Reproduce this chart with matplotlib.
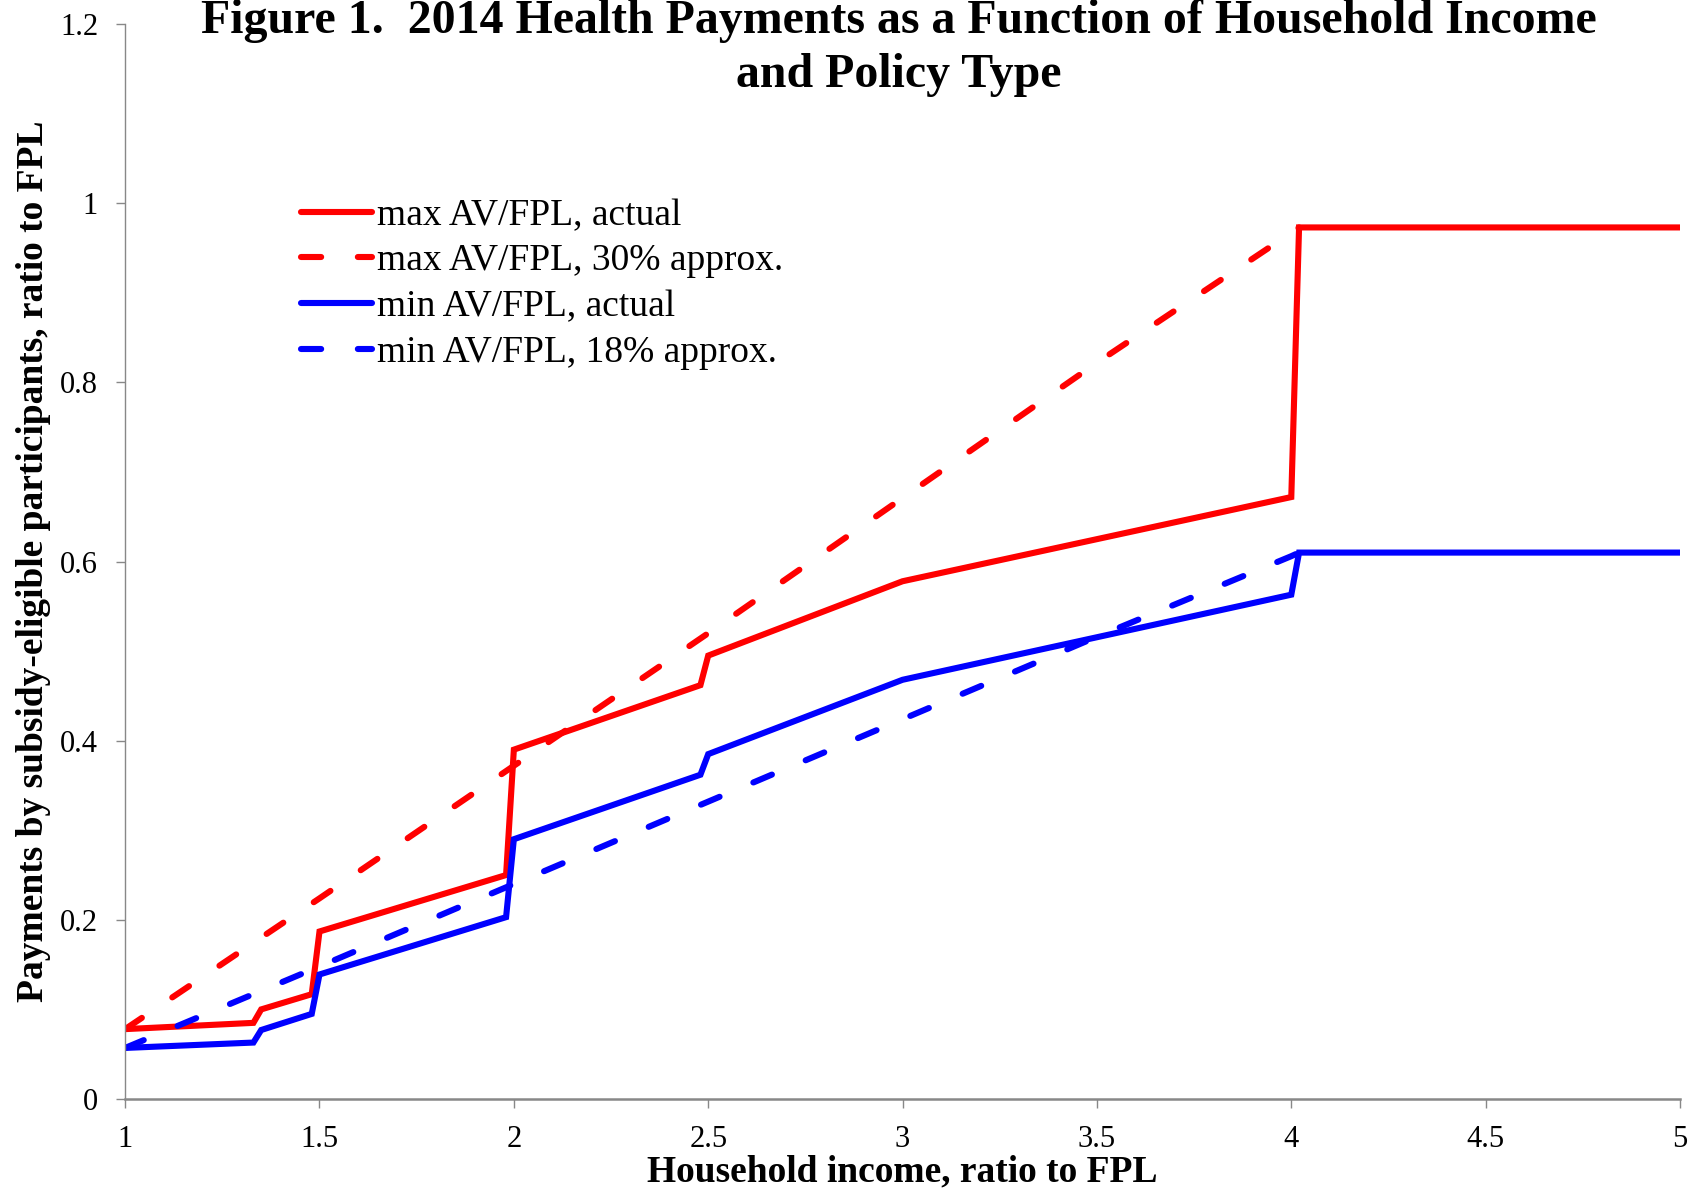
import numpy as np
import matplotlib
matplotlib.use("Agg")
from matplotlib import pyplot as plt

# household income, ratio to FPL
x_max_actual = [1.0, 1.33, 1.35, 1.48, 1.50, 1.98, 2.00, 2.48, 2.50, 3.0, 4.0, 4.02, 5.0]
y_max_actual = [0.078, 0.085, 0.100, 0.117, 0.187, 0.250, 0.390, 0.462, 0.495, 0.578, 0.672, 0.973, 0.973]

x_max_approx = [1.0, 1.5, 2.0, 2.5, 3.0, 3.5, 4.0, 4.02]
y_max_approx = [0.078, 0.224, 0.372, 0.520, 0.671, 0.822, 0.967, 0.973]

x_min_actual = [1.0, 1.33, 1.35, 1.48, 1.50, 1.98, 2.00, 2.48, 2.50, 3.0, 4.0, 4.02, 5.0]
y_min_actual = [0.057, 0.063, 0.077, 0.095, 0.139, 0.203, 0.290, 0.362, 0.385, 0.468, 0.563, 0.610, 0.610]

x_min_approx = [1.0, 1.5, 2.0, 2.5, 3.0, 3.5, 4.0, 4.02]
y_min_approx = [0.057, 0.148, 0.240, 0.332, 0.424, 0.516, 0.606, 0.610]

labels = ["max AV/FPL, actual", "max AV/FPL, 30% approx.",
          "min AV/FPL, actual", "min AV/FPL, 18% approx."]

x_ticks = [1, 1.5, 2, 2.5, 3, 3.5, 4, 4.5, 5]
x_tick_labels = ["1", "1.5", "2", "2.5", "3", "3.5", "4", "4.5", "5"]
y_ticks = [0, 0.2, 0.4, 0.6, 0.8, 1.0, 1.2]
y_tick_labels = ["0", "0.2", "0.4", "0.6", "0.8", "1", "1.2"]

title_lines = ["Figure 1.  2014 Health Payments as a Function of Household Income",
               "and Policy Type"]

plt.rcParams['font.family'] = ['Liberation Serif', 'DejaVu Serif']

fig = plt.figure(figsize=(16.91, 11.93), dpi=100)
ax = fig.add_axes([0.0740, 0.0788, 0.9195, 0.9010])

lw = 4.4
dash = (3.3, 6.0)
ax.plot(x_max_actual, y_max_actual, color='#ff0000', lw=lw, label=labels[0],
        solid_joinstyle='miter', solid_capstyle='round')
ax.plot(x_max_approx, y_max_approx, color='#ff0000', lw=lw, label=labels[1],
        dashes=dash, dash_capstyle='round')
ax.plot(x_min_actual, y_min_actual, color='#0000ff', lw=lw, label=labels[2],
        solid_joinstyle='miter', solid_capstyle='round')
ax.plot(x_min_approx, y_min_approx, color='#0000ff', lw=lw, label=labels[3],
        dashes=dash, dash_capstyle='round')

ax.set_xlim(1, 5)
ax.set_ylim(0, 1.2)
ax.set_xticks(x_ticks)
ax.set_xticklabels(x_tick_labels)
ax.set_yticks(y_ticks)
ax.set_yticklabels(y_tick_labels)

for s in ['top', 'right']:
    ax.spines[s].set_visible(False)
ax.spines['left'].set_color('#888888')
ax.spines['left'].set_linewidth(1.0)
ax.spines['bottom'].set_color('#888888')
ax.spines['bottom'].set_linewidth(1.8)
ax.tick_params(axis='both', direction='out', length=6.5, width=1.0, color='#888888',
               labelsize=22)
ax.tick_params(axis='x', pad=12)
ax.tick_params(axis='y', pad=13)

ax.set_xlabel("Household income, ratio to FPL", fontsize=27, fontweight='bold')
ax.set_ylabel("Payments by subsidy-eligible participants, ratio to FPL", fontsize=27,
              fontweight='bold')
ax.xaxis.set_label_coords(0.5, -0.052)
ax.yaxis.set_label_coords(-0.048, 0.5)

fig.text(0.5316, 1 - 33 / 1193, title_lines[0], ha='center', va='baseline',
         fontsize=34.5, fontweight='bold')
fig.text(0.5316, 1 - 87 / 1193, title_lines[1], ha='center', va='baseline',
         fontsize=34.5, fontweight='bold')

ax.legend(loc='upper left', bbox_to_anchor=(0.113, 0.838), frameon=False, fontsize=27,
          handlelength=1.9, handletextpad=0.12, labelspacing=0.3, borderaxespad=0,
          borderpad=0)

fig.savefig("out.png", dpi=100)
